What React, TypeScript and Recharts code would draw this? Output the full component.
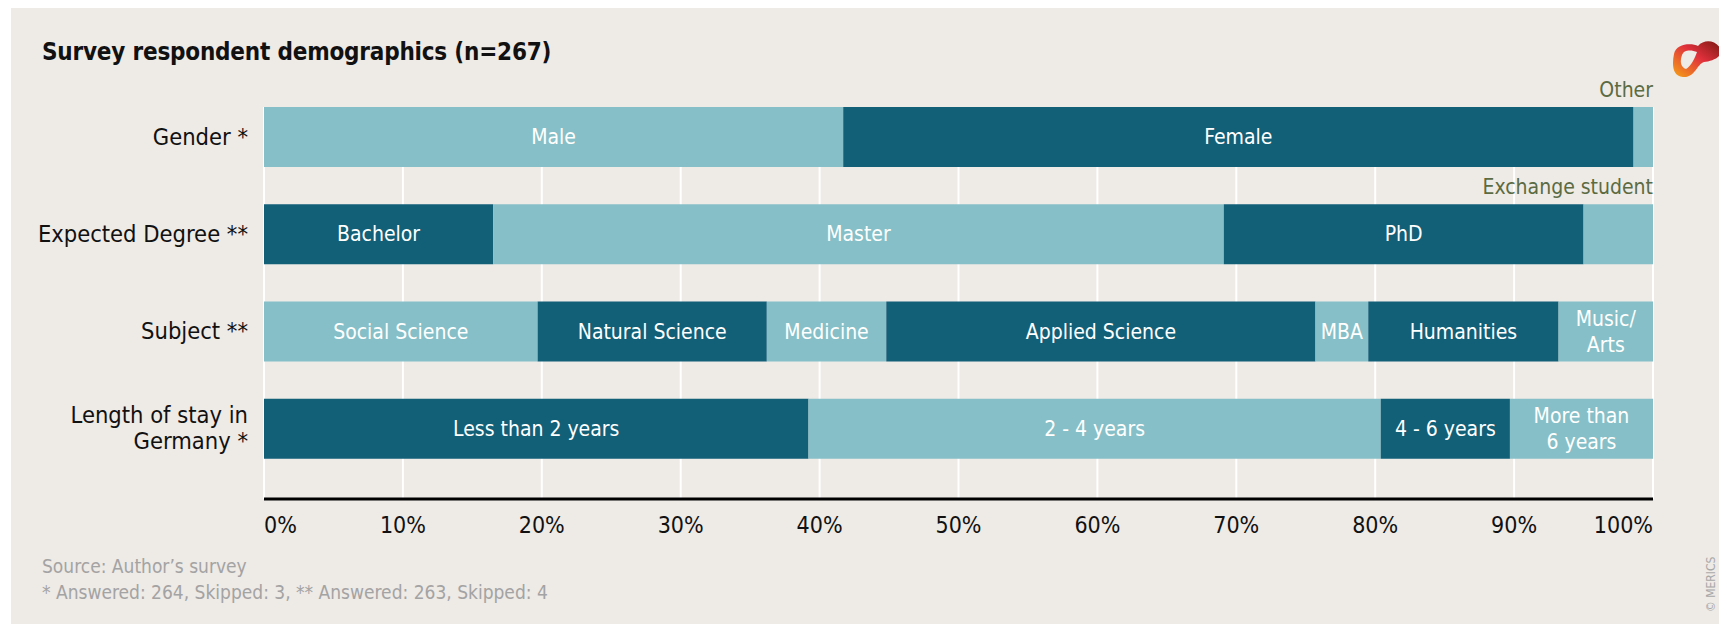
import React from "react";
import { BarChart, Bar, XAxis, YAxis, CartesianGrid, Cell, LabelList } from "recharts";

const categories = ["Gender *", "Expected Degree **", "Subject **", "Length of stay in\nGermany *"];

const genderNames = ["Male", "Female", "Other"];
const genderValues = [41.7, 56.9, 1.4];

const degreeNames = ["Bachelor", "Master", "PhD", "Exchange student"];
const degreeValues = [16.5, 52.6, 25.9, 5.0];

const subjectNames = ["Social Science", "Natural Science", "Medicine", "Applied Science", "MBA", "Humanities", "Music/\nArts"];
const subjectValues = [19.7, 16.5, 8.6, 30.9, 3.8, 13.7, 6.8];

const stayNames = ["Less than 2 years", "2 - 4 years", "4 - 6 years", "More than\n6 years"];
const stayValues = [39.2, 41.2, 9.3, 10.3];

// labels drawn above the bar instead of inside it
const outsideLabels = ["Other", "Exchange student"];

const xTicks = [0, 10, 20, 30, 40, 50, 60, 70, 80, 90, 100];

const DARK = "#125f78";
const LIGHT = "#86bfc7";
const BG = "#eeeae6";
const OLIVE = "#5b6b42";
const FONT = "'Liberation Sans Narrow', 'DejaVu Sans Condensed', Roboto, sans-serif";
const ROW_START = [LIGHT, DARK, LIGHT, DARK];

const allNames = [genderNames, degreeNames, subjectNames, stayNames];
const allValues = [genderValues, degreeValues, subjectValues, stayValues];
const SEGMENTS = Math.max(...allValues.map((v) => v.length));

const rows = categories.map((category, r) => {
  const row: Record<string, any> = { category };
  for (let i = 0; i < SEGMENTS; i++) {
    row[`v${i}`] = allValues[r][i] ?? 0;
    row[`n${i}`] = allNames[r][i] ?? "";
  }
  return row;
});

const segColor = (r: number, i: number) => {
  const start = ROW_START[r];
  if (i % 2 === 0) return start;
  return start === DARK ? LIGHT : DARK;
};

const SegmentLabel = (props: any) => {
  const { x, y, width, height, value } = props;
  if (!value) return null;
  if (outsideLabels.includes(value)) {
    return (
      <text x={x + width} y={y - 10} textAnchor="end" fill={OLIVE} fontSize={21} fontFamily={FONT}>
        {value}
      </text>
    );
  }
  const lines = String(value).split("\n");
  const cx = x + width / 2;
  const cy = y + height / 2;
  return (
    <text x={cx} y={cy} textAnchor="middle" fill="#fff" fontSize={21} fontFamily={FONT}>
      {lines.map((l, k) => (
        <tspan key={k} x={cx} y={cy + (k - (lines.length - 1) / 2) * 26} dominantBaseline="central">
          {l}
        </tspan>
      ))}
    </text>
  );
};

const CategoryTick = (props: any) => {
  const { x, y, payload } = props;
  const lines = String(payload.value).split("\n");
  return (
    <text x={x} y={y} textAnchor="end" fill="#111" fontSize={23.5} fontFamily={FONT}>
      {lines.map((l, k) => (
        <tspan key={k} x={x} y={y + (k - (lines.length - 1) / 2) * 26} dominantBaseline="central">
          {l}
        </tspan>
      ))}
    </text>
  );
};

const PercentTick = (props: any) => {
  const { x, y, payload } = props;
  const v = payload.value;
  const anchor = v === 0 ? "start" : v === 100 ? "end" : "middle";
  return (
    <text x={x} y={y + 34} textAnchor={anchor} fill="#111" fontSize={23} fontFamily={FONT}>
      {`${v}%`}
    </text>
  );
};

const GridLine = (props: any) => (
  <line
    key={props.key}
    x1={props.x1}
    x2={props.x2}
    y1={props.y1 + 19}
    y2={props.y2}
    stroke="#ffffff"
    strokeWidth={2}
  />
);

const Logo = () => (
  <svg width={52} height={42} viewBox="0 0 52 42">
    <defs>
      <linearGradient id="lg" x1="1" y1="0" x2="0" y2="1">
        <stop offset="0%" stopColor="#7a1a12" />
        <stop offset="45%" stopColor="#e0303c" />
        <stop offset="100%" stopColor="#f6a316" />
      </linearGradient>
    </defs>
    <path
      fillRule="evenodd"
      fill="url(#lg)"
      d="M4 16 C 6 5, 22 5, 28 8 C 34 1, 45 2, 50 10 C 54 19, 42 23, 34 24 C 27 26, 25 40, 13 39 C 2 38, 2 26, 4 16 Z M12 17 C 14 11, 22 12, 27 14 C 25 20, 21 28, 16 31 C 10 29, 10 22, 12 17 Z"
    />
  </svg>
);

export default function App() {
  return (
    <div
      style={{
        position: "relative",
        width: 1716,
        height: 617,
        marginLeft: 3,
        marginTop: -1,
        background: BG,
        fontFamily: FONT,
        overflow: "hidden",
      }}
    >
      <div
        style={{
          position: "absolute",
          left: 31,
          top: 31,
          fontSize: 24,
          fontWeight: 700,
          letterSpacing: -0.2,
          color: "#111",
        }}
      >
        Survey respondent demographics (n=267)
      </div>
      <div style={{ position: "absolute", left: 1659, top: 31 }}>
        <Logo />
      </div>
      <BarChart
        width={1716}
        height={617}
        data={rows}
        layout="vertical"
        margin={{ top: 81, right: 74, bottom: 85, left: 0 }}
        style={{ position: "absolute", left: 0, top: 0 }}
      >
        <CartesianGrid horizontal={false} vertical={GridLine} />
        <XAxis
          type="number"
          domain={[0, 100]}
          ticks={xTicks}
          interval={0}
          height={40}
          tickLine={false}
          tickSize={0}
          tickMargin={0}
          axisLine={{ stroke: "#000", strokeWidth: 3 }}
          tick={PercentTick}
        />
        <YAxis
          type="category"
          dataKey="category"
          width={253}
          axisLine={false}
          tickLine={false}
          tickSize={0}
          tickMargin={16}
          padding={{ top: 0, bottom: 22 }}
          tick={CategoryTick}
        />
        {Array.from({ length: SEGMENTS }, (_, i) => (
          <Bar key={i} dataKey={`v${i}`} stackId="s" barSize={60} isAnimationActive={false}>
            {rows.map((_, r) => (
              <Cell key={r} fill={segColor(r, i)} />
            ))}
            <LabelList dataKey={`n${i}`} content={SegmentLabel} />
          </Bar>
        ))}
      </BarChart>
      <div style={{ position: "absolute", left: 31, top: 546, fontSize: 19, color: "#a3a3a3", lineHeight: "26px" }}>
        <div>Source: Author’s survey</div>
        <div>* Answered: 264, Skipped: 3, ** Answered: 263, Skipped: 4</div>
      </div>
      <div
        style={{
          position: "absolute",
          left: 1693,
          top: 605,
          fontSize: 12,
          color: "#a8a8a8",
          transform: "rotate(-90deg)",
          transformOrigin: "0 0",
          whiteSpace: "nowrap",
        }}
      >
        © MERICS
      </div>
    </div>
  );
}
